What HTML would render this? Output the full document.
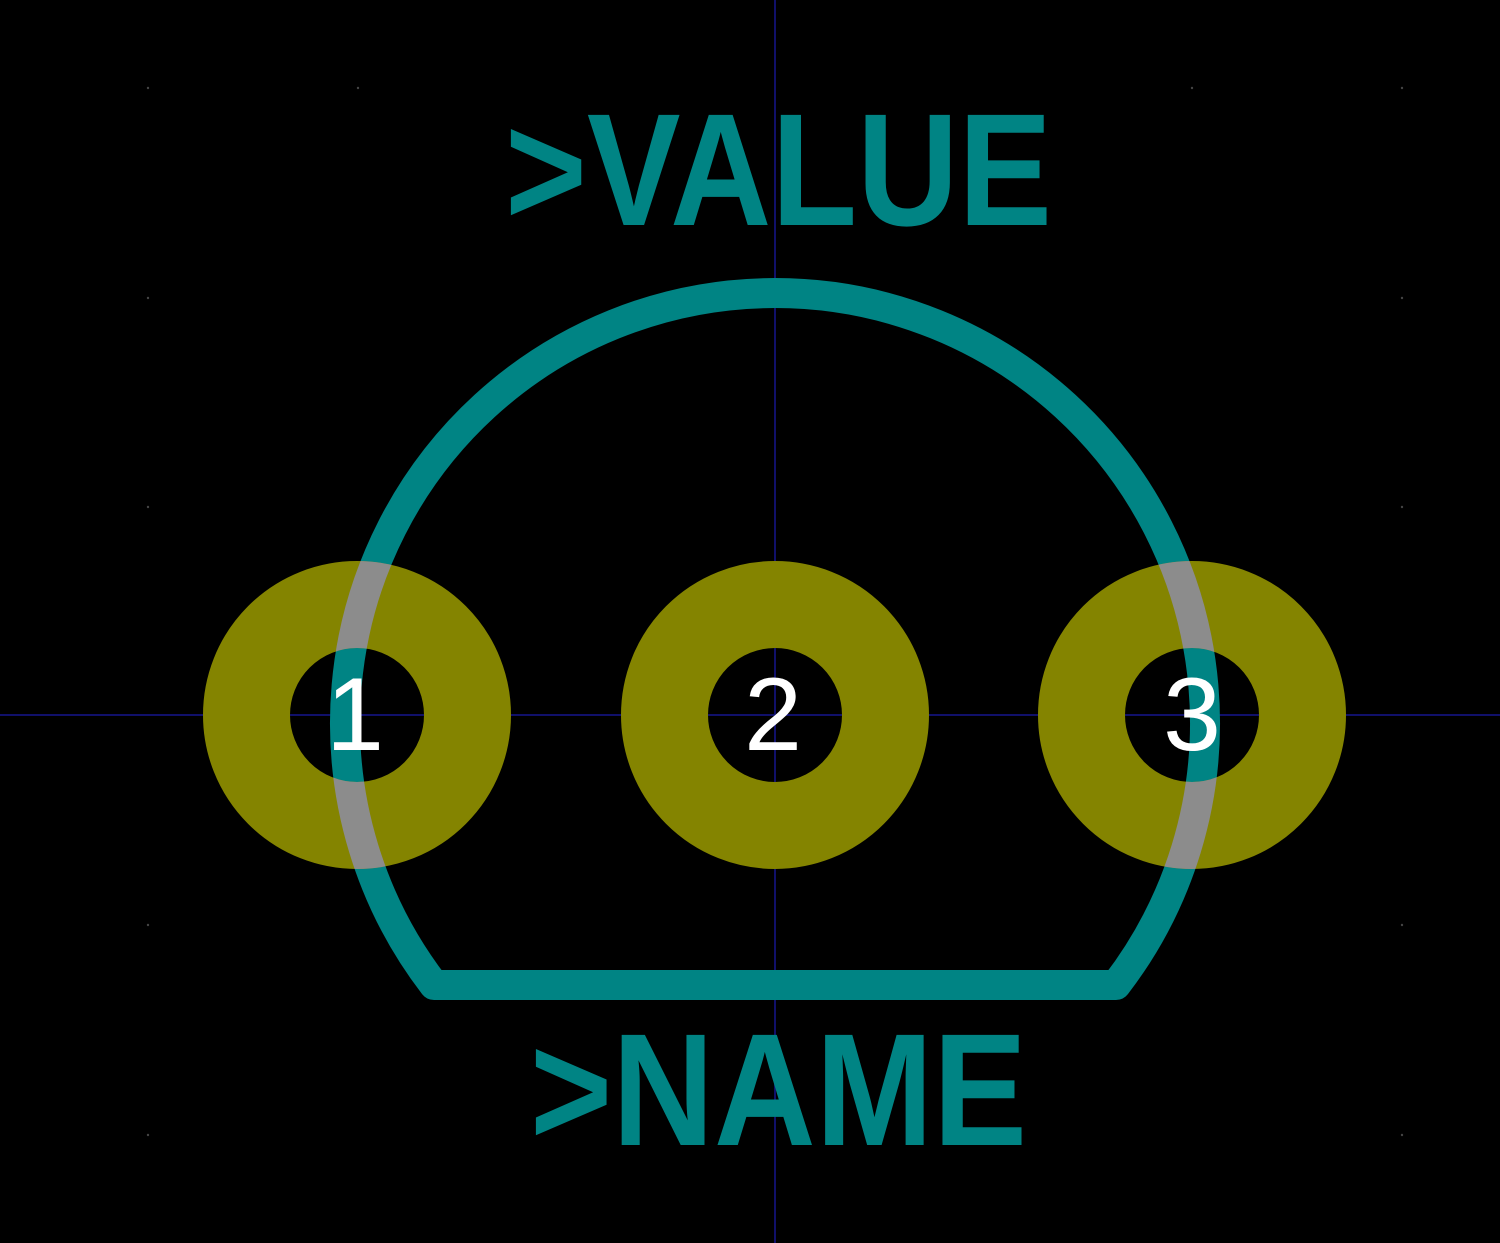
<!DOCTYPE html>
<html><head><meta charset="utf-8"><style>html,body{margin:0;padding:0;background:#000;}svg{display:block}</style></head>
<body>
<svg width="1500" height="1243" viewBox="0 0 1500 1243" xmlns="http://www.w3.org/2000/svg">
<rect width="1500" height="1243" fill="#000"/>
<g fill="#444">
<circle cx="148" cy="88" r="1.2"/><circle cx="358" cy="88" r="1.2"/><circle cx="1192" cy="88" r="1.2"/><circle cx="1402" cy="88" r="1.2"/>
<circle cx="148" cy="298" r="1.2"/><circle cx="1402" cy="298" r="1.2"/><circle cx="148" cy="507" r="1.2"/><circle cx="1402" cy="507" r="1.2"/>
<circle cx="148" cy="925" r="1.2"/><circle cx="1402" cy="925" r="1.2"/><circle cx="148" cy="1135" r="1.2"/><circle cx="1402" cy="1135" r="1.2"/>
</g>
<line x1="0" y1="715" x2="1500" y2="715" stroke="#10106a" stroke-width="2"/>
<line x1="775" y1="0" x2="775" y2="1243" stroke="#10106a" stroke-width="2"/>
<path id="silk" d="M 434 985 A 430 430 0 1 1 1116 985 Z" fill="none" stroke="#008484" stroke-width="30" stroke-linejoin="round"/>
<g fill="none" stroke="#848400" stroke-width="87">
<circle cx="357" cy="715" r="110.5"/><circle cx="775" cy="715" r="110.5"/><circle cx="1192" cy="715" r="110.5"/>
</g>
<mask id="m"><rect width="1500" height="1243" fill="#000"/>
<g fill="none" stroke="#fff" stroke-width="87"><circle cx="357" cy="715" r="110.5"/><circle cx="1192" cy="715" r="110.5"/></g></mask>
<path d="M 434 985 A 430 430 0 1 1 1116 985 Z" fill="none" stroke="#8c8c8c" stroke-width="30" mask="url(#m)"/>
<g font-family="Liberation Sans, sans-serif" fill="#008484" font-weight="bold">
<text x="505" y="225" font-size="160" textLength="547" lengthAdjust="spacingAndGlyphs">&gt;VALUE</text>
<text x="530" y="1145" font-size="160" textLength="497" lengthAdjust="spacingAndGlyphs">&gt;NAME</text>
</g>
<g font-family="Liberation Sans, sans-serif" fill="#fff" font-size="104" text-anchor="middle">
<text x="355" y="750">1</text><text x="773" y="750">2</text><text x="1192" y="750">3</text>
</g>
</svg>
</body></html>
